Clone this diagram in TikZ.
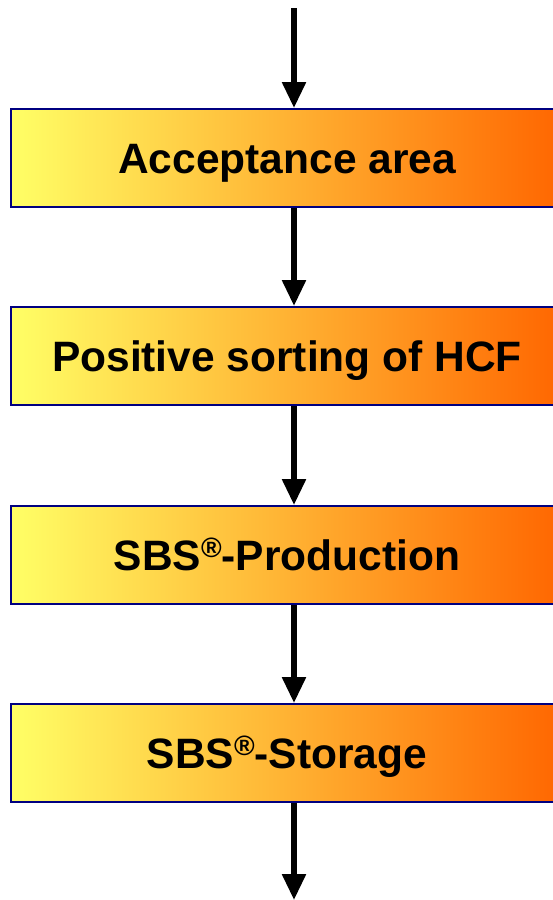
\documentclass[tikz,border=0pt]{standalone}
\usepackage{fontspec}
\setmainfont{Liberation Sans}
\usetikzlibrary{arrows.meta}
\definecolor{boxline}{RGB}{0,0,128}
\definecolor{gleft}{RGB}{255,255,102}
\definecolor{gmid}{RGB}{255,204,80}
\definecolor{gright}{RGB}{255,102,0}
\tikzset{
  stagebox/.style={draw=boxline, line width=2pt, left color=gleft, middle color=gmid, right color=gright,
    minimum width=552pt, minimum height=98pt, inner sep=0pt, anchor=north west,
    text height=30.4pt, text depth=-3pt,
    font=\fontsize{42.5}{42.5}\selectfont\bfseries},
  flowarrow/.style={line width=5.5pt, -{Triangle[width=23pt,length=26pt]}}
}
\newcommand{\regmark}{\raisebox{0.3em}{\fontsize{28}{28}\selectfont ®}}
\begin{document}
\begin{tikzpicture}[x=1pt,y=-1pt]
\useasboundingbox (0,0) rectangle (553,900);
\node[stagebox] (a) at (10,108) {Acceptance area};
\node[stagebox] (b) at (10,306) {Positive sorting of HCF};
\node[stagebox] (c) at (10,505) {SBS\regmark-Production};
\node[stagebox] (d) at (10,703) {SBS\regmark-Storage};
\coordinate (top) at (294,8);
\coordinate (bottom) at (294,900);
\draw[flowarrow] (top) -- (a.north -| top);
\draw[flowarrow] (a.south -| top) -- (b.north -| top);
\draw[flowarrow] (b.south -| top) -- (c.north -| top);
\draw[flowarrow] (c.south -| top) -- (d.north -| top);
\draw[flowarrow] (d.south -| top) -- (bottom);
\end{tikzpicture}
\end{document}
